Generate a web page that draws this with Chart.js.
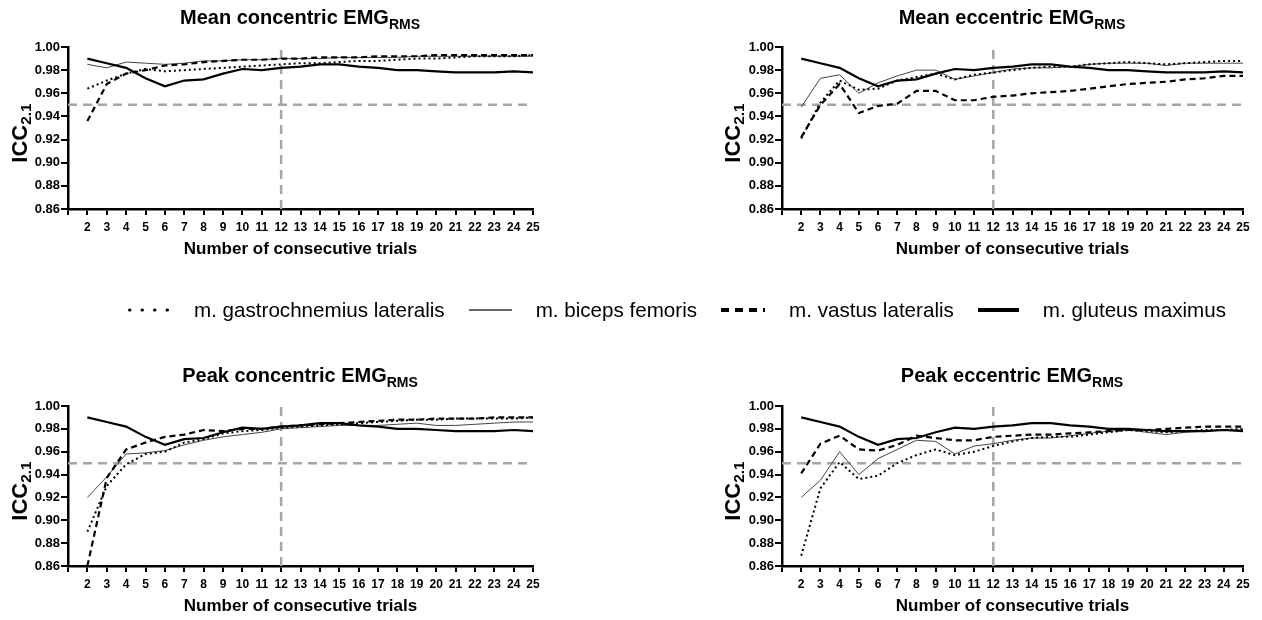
<!DOCTYPE html>
<html>
<head>
<meta charset="utf-8">
<script src="https://cdn.jsdelivr.net/npm/chart.js@4/dist/chart.umd.min.js"></script>
<style>
  html, body { margin: 0; padding: 0; background: #fff; }
  #wrap { position: relative; width: 1262px; height: 620px; overflow: hidden; font-family: "Liberation Sans", Arial, sans-serif; color: #000; }
  canvas { position: absolute; }
  .title { position: absolute; transform: translate(-50%, -50%); font-weight: bold; font-size: 20px; white-space: nowrap; }
  .title sub, .ytitle sub { font-size: 70%; vertical-align: -0.3em; }
  .ytitle { position: absolute; transform: translate(-50%, -50%) rotate(-90deg); font-weight: bold; font-size: 22px; line-height: 22px; white-space: nowrap; }
  #legend { position: absolute; left: 128px; top: 297px; height: 26px; display: flex; align-items: center; font-size: 20.6px; white-space: nowrap; }
  #legend svg { display: block; }
  #legend span { margin: 0 24px 0 24px; }
</style>
</head>
<body>
<div id="wrap">
  <canvas id="c1" width="552" height="260" style="left:0;top:0"></canvas>
  <canvas id="c2" width="552" height="260" style="left:710px;top:0"></canvas>
  <canvas id="c3" width="552" height="287" style="left:0;top:330px"></canvas>
  <canvas id="c4" width="552" height="287" style="left:710px;top:330px"></canvas>

  <div class="title" style="left:300px;top:19px">Mean concentric EMG<sub>RMS</sub></div>
  <div class="title" style="left:1012px;top:19px">Mean eccentric EMG<sub>RMS</sub></div>
  <div class="title" style="left:300px;top:377px">Peak concentric EMG<sub>RMS</sub></div>
  <div class="title" style="left:1012px;top:377px">Peak eccentric EMG<sub>RMS</sub></div>

  <div class="ytitle" style="left:23px;top:133px">ICC<sub>2.1</sub></div>
  <div class="ytitle" style="left:736px;top:133px">ICC<sub>2.1</sub></div>
  <div class="ytitle" style="left:23px;top:491px">ICC<sub>2.1</sub></div>
  <div class="ytitle" style="left:736px;top:491px">ICC<sub>2.1</sub></div>

  <div id="legend">
    <svg width="42" height="12"><line x1="1.5" y1="6" x2="42" y2="6" stroke="#000" stroke-width="3" stroke-linecap="round" stroke-dasharray="0.5 12"/></svg><span>m. gastrochnemius lateralis</span>
    <svg width="43" height="12"><line x1="0" y1="6" x2="43" y2="6" stroke="#333" stroke-width="1.3"/></svg><span>m. biceps femoris</span>
    <svg width="44" height="12"><line x1="0" y1="6" x2="44" y2="6" stroke="#000" stroke-width="4" stroke-dasharray="8 6"/></svg><span>m. vastus lateralis</span>
    <svg width="41" height="12"><line x1="0" y1="6" x2="41" y2="6" stroke="#000" stroke-width="4"/></svg><span>m. gluteus maximus</span>
  </div>
</div>

<script>
const FONT = '"Liberation Sans", Arial, sans-serif';

// number of consecutive trials
const trials = [2, 3, 4, 5, 6, 7, 8, 9, 10, 11, 12, 13, 14, 15, 16, 17, 18, 19, 20, 21, 22, 23, 24, 25];
const yTicks = [0.86, 0.88, 0.90, 0.92, 0.94, 0.96, 0.98, 1.00];
const iccThreshold = 0.95;
const chosenTrials = 12;

// m. gluteus maximus (same curve in all four panels)
const gluteusMaximus = [0.990, 0.986, 0.982, 0.973, 0.966, 0.971, 0.972, 0.977, 0.981, 0.980, 0.982, 0.983, 0.985, 0.985, 0.983, 0.982, 0.980, 0.980, 0.979, 0.978, 0.978, 0.978, 0.979, 0.978];

// Mean concentric
const meanConGastroc = [0.964, 0.971, 0.977, 0.981, 0.979, 0.980, 0.981, 0.982, 0.983, 0.984, 0.985, 0.986, 0.986, 0.987, 0.988, 0.988, 0.989, 0.990, 0.990, 0.991, 0.992, 0.992, 0.992, 0.993];
const meanConBiceps  = [0.985, 0.982, 0.987, 0.986, 0.985, 0.986, 0.988, 0.988, 0.989, 0.989, 0.990, 0.990, 0.990, 0.991, 0.991, 0.991, 0.991, 0.992, 0.992, 0.992, 0.992, 0.992, 0.992, 0.992];
const meanConVastus  = [0.936, 0.968, 0.977, 0.980, 0.984, 0.985, 0.987, 0.988, 0.989, 0.989, 0.990, 0.990, 0.991, 0.991, 0.991, 0.992, 0.992, 0.992, 0.993, 0.993, 0.993, 0.993, 0.993, 0.993];

// Mean eccentric
const meanEccGastroc = [0.921, 0.952, 0.971, 0.963, 0.964, 0.971, 0.974, 0.977, 0.972, 0.976, 0.978, 0.980, 0.982, 0.983, 0.983, 0.985, 0.986, 0.987, 0.986, 0.985, 0.986, 0.987, 0.988, 0.988];
const meanEccBiceps  = [0.948, 0.973, 0.976, 0.960, 0.969, 0.975, 0.980, 0.980, 0.972, 0.975, 0.978, 0.981, 0.982, 0.982, 0.983, 0.985, 0.986, 0.986, 0.986, 0.984, 0.986, 0.986, 0.986, 0.986];
const meanEccVastus  = [0.922, 0.950, 0.968, 0.943, 0.949, 0.951, 0.962, 0.962, 0.954, 0.954, 0.957, 0.958, 0.960, 0.961, 0.962, 0.964, 0.966, 0.968, 0.969, 0.970, 0.972, 0.973, 0.975, 0.975];

// Peak concentric
const peakConGastroc = [0.890, 0.930, 0.949, 0.958, 0.960, 0.968, 0.971, 0.976, 0.978, 0.979, 0.981, 0.982, 0.983, 0.984, 0.985, 0.986, 0.987, 0.988, 0.988, 0.989, 0.989, 0.989, 0.989, 0.990];
const peakConBiceps  = [0.920, 0.938, 0.958, 0.959, 0.961, 0.966, 0.970, 0.973, 0.975, 0.977, 0.980, 0.981, 0.982, 0.983, 0.983, 0.983, 0.984, 0.985, 0.983, 0.983, 0.984, 0.985, 0.986, 0.986];
const peakConVastus  = [0.860, 0.937, 0.962, 0.968, 0.973, 0.975, 0.979, 0.978, 0.980, 0.980, 0.982, 0.983, 0.984, 0.985, 0.986, 0.987, 0.988, 0.988, 0.989, 0.989, 0.989, 0.990, 0.990, 0.990];

// Peak eccentric
const peakEccGastroc = [0.869, 0.928, 0.951, 0.936, 0.939, 0.950, 0.957, 0.962, 0.957, 0.960, 0.965, 0.969, 0.972, 0.973, 0.973, 0.975, 0.977, 0.979, 0.978, 0.977, 0.978, 0.979, 0.979, 0.980];
const peakEccBiceps  = [0.920, 0.935, 0.960, 0.940, 0.954, 0.962, 0.970, 0.969, 0.958, 0.965, 0.967, 0.970, 0.972, 0.972, 0.974, 0.976, 0.978, 0.979, 0.977, 0.975, 0.977, 0.978, 0.979, 0.979];
const peakEccVastus  = [0.941, 0.967, 0.974, 0.962, 0.961, 0.966, 0.974, 0.972, 0.970, 0.970, 0.973, 0.974, 0.975, 0.975, 0.976, 0.977, 0.978, 0.979, 0.979, 0.980, 0.981, 0.982, 0.982, 0.982];

const pts = values => values.map((v, i) => ({ x: trials[i], y: v }));

const refLine = {
    borderColor: '#a6a6a6',
    borderWidth: 2.5,
    borderDash: [9, 6],
    order: 10
};

function makePanel(id, yAxisWidth, padTop, gastroc, biceps, vastus) {
    const datasets = [
        { ...refLine, label: 'threshold', data: [{ x: 1, y: iccThreshold }, { x: 25, y: iccThreshold }] },
        { ...refLine, label: 'trials', data: [{ x: chosenTrials, y: yTicks[0] }, { x: chosenTrials, y: yTicks[yTicks.length - 1] }] },
        { label: 'm. biceps femoris', data: pts(biceps), borderColor: '#444', borderWidth: 1, order: 4 },
        { label: 'm. gastrochnemius lateralis', data: pts(gastroc), borderColor: '#000', borderWidth: 2, borderDash: [2, 3], order: 3 },
        { label: 'm. vastus lateralis', data: pts(vastus), borderColor: '#000', borderWidth: 2.2, borderDash: [6, 4], order: 2 },
        { label: 'm. gluteus maximus', data: pts(gluteusMaximus), borderColor: '#000', borderWidth: 2.2, order: 1 }
    ];

    const tickFont = { family: FONT, weight: 'bold', size: 12 };

    new Chart(document.getElementById(id), {
        type: 'line',
        data: { datasets },
        options: {
            responsive: false,
            animation: false,
            events: [],
            layout: { padding: { left: 0, top: padTop, right: 19, bottom: 0 } },
            elements: { point: { radius: 0 }, line: { tension: 0, fill: false } },
            plugins: { legend: { display: false }, tooltip: { enabled: false } },
            scales: {
                x: {
                    type: 'linear',
                    min: 1,
                    max: 25,
                    afterFit: s => { s.height = 51; },
                    ticks: {
                        stepSize: 1,
                        autoSkip: false,
                        maxRotation: 0,
                        color: '#000',
                        font: tickFont,
                        padding: 5,
                        callback: v => (v === 1 ? '' : v)
                    },
                    grid: { drawOnChartArea: false, color: '#000', lineWidth: 2, tickLength: 6 },
                    border: { color: '#000', width: 2.5 },
                    title: {
                        display: true,
                        text: 'Number of consecutive trials',
                        color: '#000',
                        font: { family: FONT, weight: 'bold', size: 17 },
                        padding: { top: 0, bottom: 0 }
                    }
                },
                y: {
                    min: yTicks[0],
                    max: yTicks[yTicks.length - 1],
                    afterFit: s => { s.width = yAxisWidth; },
                    afterBuildTicks: s => { s.ticks = yTicks.map(v => ({ value: v })); },
                    ticks: {
                        color: '#000',
                        font: { ...tickFont, size: 13 },
                        padding: 1,
                        callback: v => v.toFixed(2)
                    },
                    grid: { drawOnChartArea: false, color: '#000', lineWidth: 2, tickLength: 7 },
                    border: { color: '#000', width: 2.5 }
                }
            }
        }
    });
}

makePanel('c1', 68, 47, meanConGastroc, meanConBiceps, meanConVastus);
makePanel('c2', 72, 47, meanEccGastroc, meanEccBiceps, meanEccVastus);
makePanel('c3', 68, 76, peakConGastroc, peakConBiceps, peakConVastus);
makePanel('c4', 72, 76, peakEccGastroc, peakEccBiceps, peakEccVastus);
</script>
</body>
</html>
